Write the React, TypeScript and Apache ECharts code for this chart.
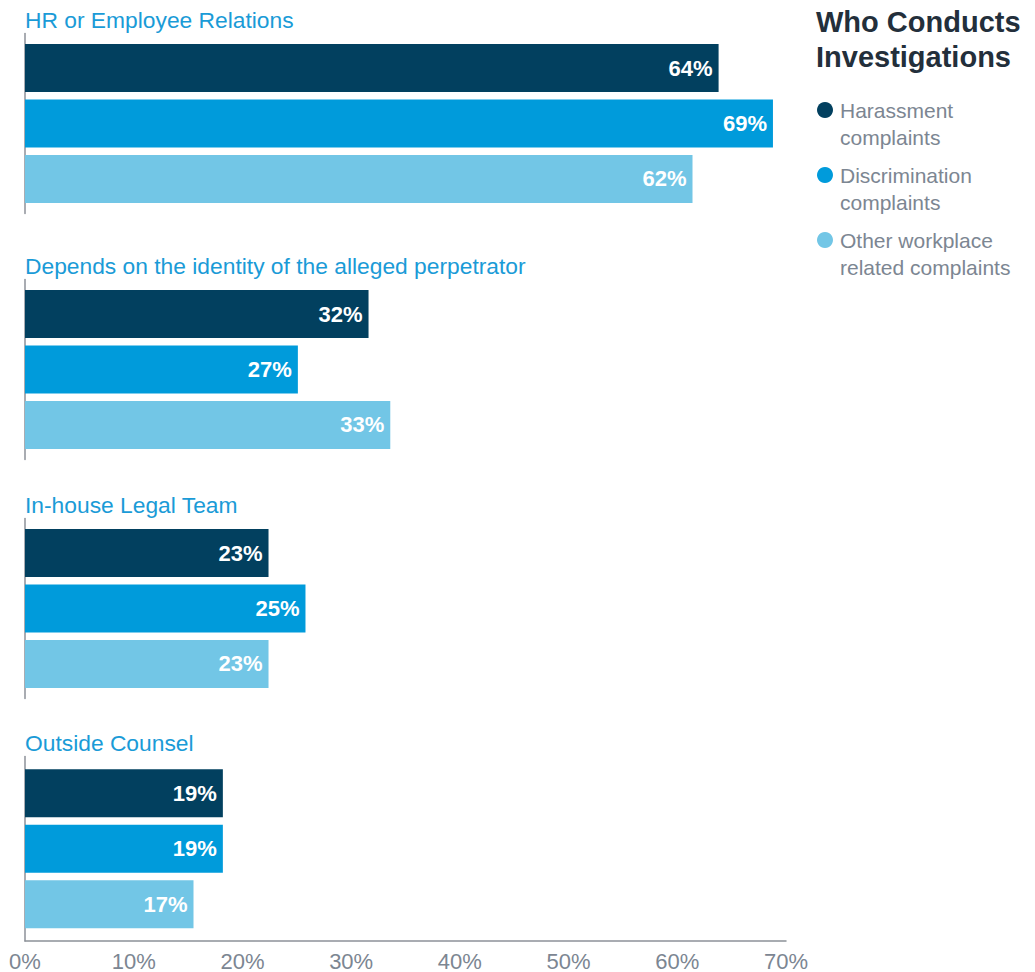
import React, { useEffect, useRef } from "react";
import * as echarts from "echarts";

const groups = [
  "HR or Employee Relations",
  "Depends on the identity of the alleged perpetrator",
  "In-house Legal Team",
  "Outside Counsel",
];
const seriesNames = [
  "Harassment complaints",
  "Discrimination complaints",
  "Other workplace related complaints",
];
const legendLines = [
  "Harassment\ncomplaints",
  "Discrimination\ncomplaints",
  "Other workplace\nrelated complaints",
];
// bar lengths as drawn (percent)
const harassment = [63.8, 31.6, 22.4, 18.2];
const discrimination = [68.8, 25.1, 25.8, 18.2];
const other = [61.4, 33.6, 22.4, 15.5];
// printed labels
const harassmentLabels = ["64%", "32%", "23%", "19%"];
const discriminationLabels = ["69%", "27%", "25%", "19%"];
const otherLabels = ["62%", "33%", "23%", "17%"];
const xTicks = [0, 10, 20, 30, 40, 50, 60, 70];

const colors = ["#02405f", "#009bdb", "#72c6e6"];
const FONT = "'Liberation Sans', Arial, Helvetica, sans-serif";

export default function App() {
  const ref = useRef<HTMLDivElement>(null);
  useEffect(() => {
    if (!ref.current) return;
    const chart = echarts.init(ref.current, null, { renderer: "svg" });
    const tops = [33.5, 279.5, 518.5, 756.5];
    const heights = [180, 180, 180, 186];
    const values = [harassment, discrimination, other];
    const labels = [harassmentLabels, discriminationLabels, otherLabels];

    const grid = groups.map((_, i) => ({
      left: 25,
      right: 249,
      top: tops[i],
      height: heights[i],
    }));
    const xAxis = groups.map((_, i) => ({
      type: "value",
      gridIndex: i,
      min: xTicks[0],
      max: xTicks[xTicks.length - 1],
      interval: 10,
      show: i === groups.length - 1,
      splitLine: { show: false },
      axisTick: { show: false },
      axisLine: { show: true, lineStyle: { color: "#8c9198", width: 1.5 } },
      axisLabel: {
        formatter: "{value}%",
        fontSize: 22,
        color: "#7c8692",
        fontFamily: FONT,
        margin: 9,
        showMaxLabel: true,
      },
    }));
    const yAxis = groups.map((g, i) => ({
      type: "category",
      gridIndex: i,
      data: [g],
      name: g,
      nameLocation: "end",
      nameGap: 14,
      nameTextStyle: {
        align: "left",
        verticalAlign: "middle",
        fontSize: 22.8,
        color: "#1a9bd7",
        fontFamily: FONT,
      },
      axisLine: { show: true, lineStyle: { color: "#8c9198", width: 1.5 } },
      axisTick: { show: false },
      axisLabel: { show: false },
      splitLine: { show: false },
    }));
    const series: any[] = [];
    groups.forEach((_, gi) => {
      seriesNames.forEach((sn, si) => {
        series.push({
          type: "bar",
          name: sn,
          xAxisIndex: gi,
          yAxisIndex: gi,
          data: [values[si][gi]],
          barWidth: 48,
          barGap: "15.6%",
          itemStyle: { color: colors[si] },
          label: {
            show: true,
            position: "insideRight",
            distance: 6,
            color: "#ffffff",
            fontSize: 22,
            fontWeight: "bold",
            fontFamily: FONT,
            formatter: () => labels[si][gi],
          },
        });
      });
    });

    const graphic: any[] = [];
    legendLines.forEach((t, i) => {
      const cy = 110 + i * 65;
      graphic.push({
        type: "circle",
        shape: { cx: 825, cy, r: 8 },
        style: { fill: colors[i] },
      });
      graphic.push({
        type: "text",
        x: 840,
        y: cy - 13.5,
        style: {
          text: t,
          fontSize: 21,
          lineHeight: 27,
          fill: "#7c8692",
          fontFamily: FONT,
          verticalAlign: "top",
          align: "left",
        },
      });
    });

    chart.setOption({
      animation: false,
      title: {
        text: "Who Conducts\nInvestigations",
        left: 816,
        top: 4,
        padding: 0,
        textStyle: {
          fontSize: 29,
          fontWeight: "bold",
          lineHeight: 35,
          color: "#232f3b",
          fontFamily: FONT,
        },
      },
      grid,
      xAxis,
      yAxis,
      series,
      graphic,
    });
    return () => chart.dispose();
  }, []);
  return (
    <div
      ref={ref}
      style={{ position: "absolute", left: 0, top: 0, width: 1035, height: 972 }}
    />
  );
}
